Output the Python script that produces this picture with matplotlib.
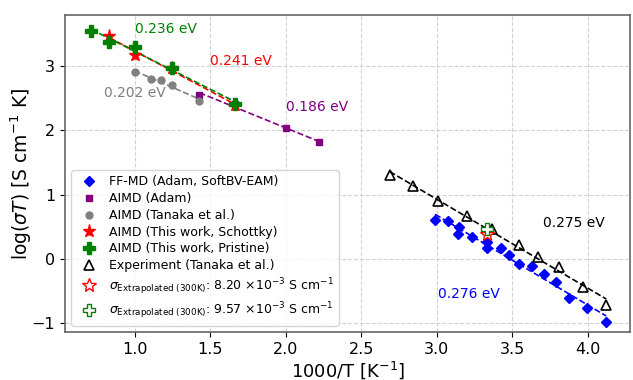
import numpy as np
import matplotlib
matplotlib.use("Agg")
import matplotlib.pyplot as plt

# FF-MD (Adam, SoftBV-EAM)
ffmd_x = [2.989, 3.077, 3.149, 3.138, 3.233, 3.330, 3.330, 3.422, 3.477, 3.545, 3.631, 3.708, 3.787, 3.875, 3.995, 4.121]
ffmd_y = [0.606, 0.590, 0.492, 0.388, 0.337, 0.269, 0.175, 0.166, 0.062, -0.078, -0.109, -0.233, -0.362, -0.600, -0.766, -0.973]
# AIMD (Adam)
adam_x = [1.429, 1.667, 2.0, 2.222]
adam_y = [2.547, 2.405, 2.029, 1.812]
# AIMD (Tanaka et al.)
tanaka_x = [1.0, 1.111, 1.176, 1.25, 1.429]
tanaka_y = [2.899, 2.790, 2.775, 2.697, 2.453]
# AIMD (This work, Schottky)
schottky_x = [0.833, 1.0, 1.25, 1.667]
schottky_y = [3.463, 3.168, 2.960, 2.390]
# AIMD (This work, Pristine)
pristine_x = [0.714, 0.833, 1.0, 1.25, 1.667]
pristine_y = [3.540, 3.374, 3.297, 2.970, 2.402]
# Experiment (Tanaka et al.)
exp_x = [2.688, 2.842, 3.007, 3.198, 3.367, 3.541, 3.672, 3.809, 3.967, 4.121]
exp_y = [1.304, 1.138, 0.905, 0.672, 0.461, 0.217, 0.026, -0.129, -0.430, -0.714]
# Extrapolated values at 300 K
extrap_x = 1000.0 / 300.0
sigma_schottky = 8.20e-3
sigma_pristine = 9.57e-3

labels_ea = ["0.236 eV", "0.241 eV", "0.202 eV", "0.186 eV", "0.275 eV", "0.276 eV"]

fig = plt.figure(figsize=(6.33, 3.8), dpi=100)
ax = fig.add_axes([0.1027, 0.126, 0.893, 0.835])

def fitline(x, y, color):
    x = np.asarray(x); y = np.asarray(y)
    p = np.polyfit(x, y, 1)
    xs = np.array([x.min(), x.max()])
    ax.plot(xs, np.polyval(p, xs), '--', color=color, lw=1.2, zorder=2)

fitline(ffmd_x, ffmd_y, 'blue')
fitline(adam_x, adam_y, 'purple')
fitline(tanaka_x, tanaka_y, 'gray')
fitline(schottky_x, schottky_y, 'red')
fitline(pristine_x, pristine_y, 'green')
fitline(exp_x, exp_y, 'black')

ax.plot(ffmd_x, ffmd_y, 'D', color='blue', ms=5, ls='none', label='FF-MD (Adam, SoftBV-EAM)', zorder=3)
ax.plot(adam_x, adam_y, 's', color='purple', ms=5, ls='none', label='AIMD (Adam)', zorder=3)
ax.plot(tanaka_x, tanaka_y, 'o', color='gray', ms=5, ls='none', label='AIMD (Tanaka et al.)', zorder=3)
ax.plot(schottky_x, schottky_y, '*', color='red', ms=9.5, ls='none', label='AIMD (This work, Schottky)', zorder=3)
ax.plot(pristine_x, pristine_y, 'P', color='green', ms=9, ls='none', label='AIMD (This work, Pristine)', zorder=4)
ax.plot(exp_x, exp_y, '^', mfc='none', mec='black', mew=1.2, ms=7, ls='none', label='Experiment (Tanaka et al.)', zorder=3)
ax.plot([extrap_x], [np.log10(sigma_schottky * 300)], '*', mfc='white', mec='red', ms=10, ls='none',
        label=r'$\sigma_{\mathrm{Extrapolated\ (300K)}}$: 8.20 $\times 10^{-3}$ S cm$^{-1}$', zorder=5)
ax.plot([extrap_x], [np.log10(sigma_pristine * 300)], 'P', mfc='white', mec='green', ms=9, ls='none',
        label=r'$\sigma_{\mathrm{Extrapolated\ (300K)}}$: 9.57 $\times 10^{-3}$ S cm$^{-1}$', zorder=6)

fs = 10
ax.text(1.0, 3.57, labels_ea[0], color='green', fontsize=fs, va='center')
ax.text(1.50, 3.07, labels_ea[1], color='red', fontsize=fs, va='center')
ax.text(0.80, 2.57, labels_ea[2], color='gray', fontsize=fs, va='center')
ax.text(2.0, 2.365, labels_ea[3], color='purple', fontsize=fs, va='center')
ax.text(3.70, 0.564, labels_ea[4], color='black', fontsize=fs, va='center')
ax.text(3.005, -0.548, labels_ea[5], color='blue', fontsize=fs, va='center')

ax.set_xlim(0.54, 4.28)
ax.set_ylim(-1.135, 3.79)
ax.set_xlabel('1000/T [K$^{-1}$]', fontsize=13, labelpad=2)
ax.set_ylabel(r'log($\sigma T$) [S cm$^{-1}$ K]', fontsize=13.5, labelpad=-2)
ax.tick_params(labelsize=11.5)
ax.set_xticks([1.0, 1.5, 2.0, 2.5, 3.0, 3.5, 4.0])
ax.set_yticks([-1, 0, 1, 2, 3])
ax.grid(True, ls='--', color='lightgray', lw=0.8)
ax.set_axisbelow(True)
for s in ax.spines.values():
    s.set_color('#666666')
    s.set_linewidth(1.2)
ax.legend(loc='lower left', fontsize=9, frameon=True, handletextpad=0.6, labelspacing=0.3)

fig.savefig('out.png', dpi=100)
